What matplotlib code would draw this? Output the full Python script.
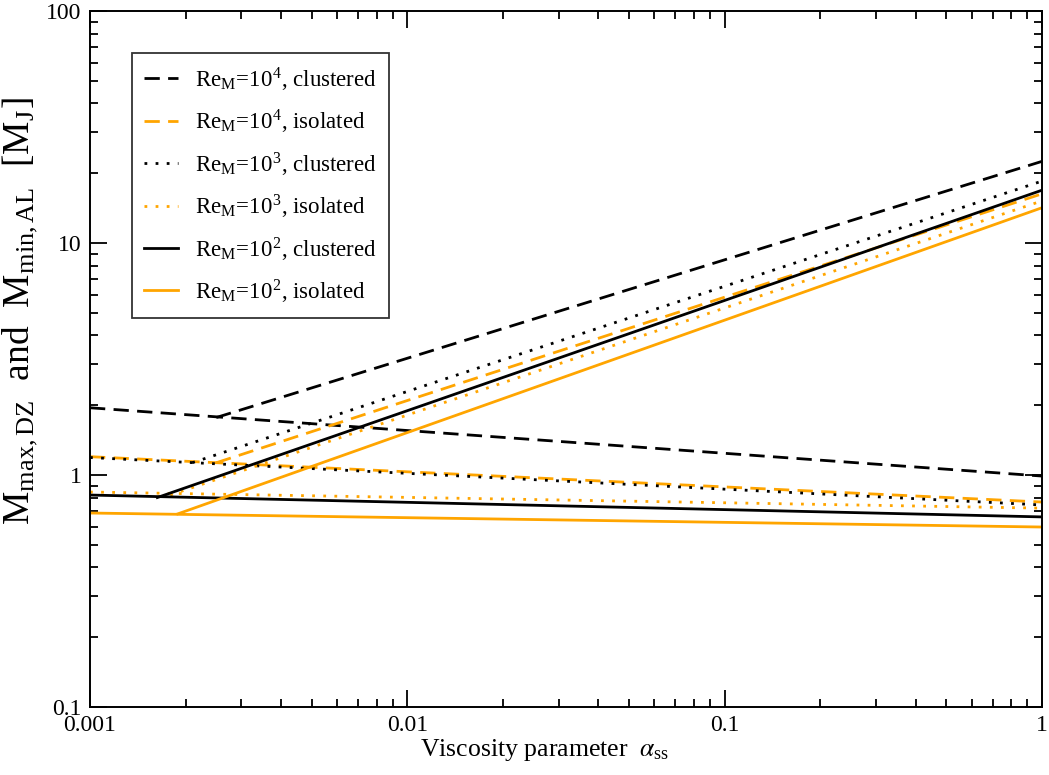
import matplotlib
matplotlib.use("Agg")
import matplotlib.pyplot as plt
from matplotlib.ticker import FixedLocator, LogLocator, NullFormatter

plt.rcParams['font.family'] = ['Liberation Serif', 'DejaVu Serif']
plt.rcParams['mathtext.fontset'] = 'stix'

# Data: M_max,DZ (flat branch) over the whole alpha range
flat_x = [0.001, 1.0]
flat_re4_clu = [1.95, 0.99]
flat_re4_iso = [1.20, 0.765]
flat_re3_clu = [1.19, 0.743]
flat_re3_iso = [0.845, 0.72]
flat_re2_clu = [0.82, 0.66]
flat_re2_iso = [0.686, 0.597]

# Data: M_min,AL (rising branch), starts where it meets the flat branch
rise_re4_clu_x = [0.0025, 1.0]
rise_re4_clu = [1.77, 22.5]
rise_re4_iso_x = [0.0025, 1.0]
rise_re4_iso = [1.13, 16.3]
rise_re3_clu_x = [0.0021, 1.0]
rise_re3_clu = [1.13, 18.5]
rise_re3_iso_x = [0.00179, 1.0]
rise_re3_iso = [0.82, 15.2]
rise_re2_clu_x = [0.00163, 1.0]
rise_re2_clu = [0.80, 16.9]
rise_re2_iso_x = [0.00189, 1.0]
rise_re2_iso = [0.68, 14.2]

labels = [r'Re$_\mathregular{M}$=10$^\mathregular{4}$, clustered',
          r'Re$_\mathregular{M}$=10$^\mathregular{4}$, isolated',
          r'Re$_\mathregular{M}$=10$^\mathregular{3}$, clustered',
          r'Re$_\mathregular{M}$=10$^\mathregular{3}$, isolated',
          r'Re$_\mathregular{M}$=10$^\mathregular{2}$, clustered',
          r'Re$_\mathregular{M}$=10$^\mathregular{2}$, isolated']

orange = '#ffa500'
lw = 2.0
dash = (0, (5.5, 3))
dot = (0, (1, 3))

series = [
    (flat_re4_clu, rise_re4_clu_x, rise_re4_clu, 'black', dash),
    (flat_re4_iso, rise_re4_iso_x, rise_re4_iso, orange, dash),
    (flat_re3_clu, rise_re3_clu_x, rise_re3_clu, 'black', dot),
    (flat_re3_iso, rise_re3_iso_x, rise_re3_iso, orange, dot),
    (flat_re2_clu, rise_re2_clu_x, rise_re2_clu, 'black', '-'),
    (flat_re2_iso, rise_re2_iso_x, rise_re2_iso, orange, '-'),
]

fig = plt.figure(figsize=(10.49, 7.75), dpi=100)
ax = fig.add_axes([0.0858, 0.0877, 0.9075, 0.898])

handles = []
for (flat_y, rx, ry, col, ls), lab in zip(series, labels):
    h, = ax.plot(flat_x, flat_y, color=col, ls=ls, lw=lw, label=lab)
    ax.plot(rx, ry, color=col, ls=ls, lw=lw)
    handles.append(h)

ax.set_xscale('log')
ax.set_yscale('log')
ax.set_xlim(0.001, 1)
ax.set_ylim(0.1, 100)

ax.xaxis.set_major_locator(FixedLocator([0.001, 0.01, 0.1, 1]))
ax.set_xticklabels(['0.001', '0.01', '0.1', '1'])
ax.yaxis.set_major_locator(FixedLocator([0.1, 1, 10, 100]))
ax.set_yticklabels(['0.1', '1', '10', '100'])
ax.xaxis.set_minor_locator(LogLocator(base=10, subs=range(2, 10)))
ax.yaxis.set_minor_locator(LogLocator(base=10, subs=range(2, 10)))
ax.xaxis.set_minor_formatter(NullFormatter())
ax.yaxis.set_minor_formatter(NullFormatter())

ax.tick_params(which='both', direction='in', top=True, right=True,
               width=1.3, labelsize=17)
ax.tick_params(which='major', length=12, pad=6)
ax.tick_params(which='minor', length=6)
for s in ax.spines.values():
    s.set_linewidth(1.4)

ax.set_xlabel(r'Viscosity parameter  $\alpha_\mathregular{ss}$', fontsize=18.5)
ax.xaxis.set_label_coords(0.477, -0.043)
ax.set_ylabel(r'M$_\mathregular{max,DZ}$  and  M$_\mathregular{min,AL}$  [M$_\mathregular{J}$]',
              fontsize=27)
ax.yaxis.set_label_coords(-0.054, 0.57)

leg = ax.legend(handles=handles, loc='upper left', bbox_to_anchor=(0.044, 0.94),
                borderaxespad=0, fontsize=16.5, frameon=True, fancybox=False,
                handlelength=1.45, labelspacing=0.65, borderpad=0.55,
                handletextpad=0.75)
leg.get_frame().set_edgecolor('black')
leg.get_frame().set_linewidth(1.3)

fig.savefig('out.png', dpi=100)
